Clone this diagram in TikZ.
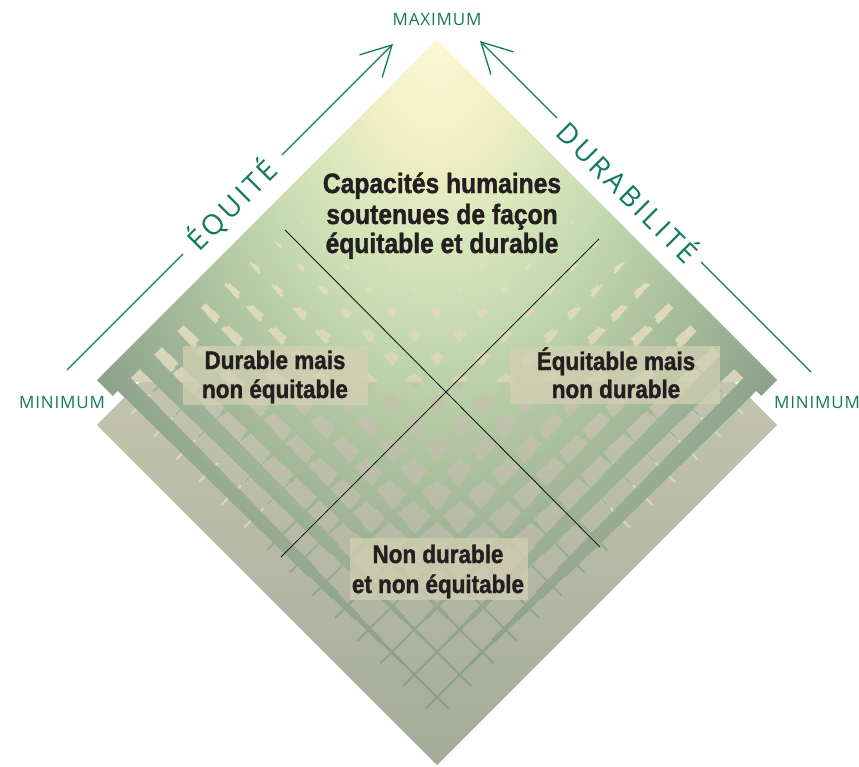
\documentclass[tikz,border=0pt]{standalone}
\usepackage{fontspec}
\setmainfont{Liberation Sans}
\newfontfamily\labelfont[FakeStretch=0.88, BoldFeatures={FakeBold=1.4}]{Liberation Sans}
\newfontfamily\axisfont[LetterSpace=5]{Open Sans}
\newfontfamily\axisfontsp[LetterSpace=12]{Open Sans}
\usetikzlibrary{arrows.meta}
\definecolor{axisgreen}{RGB}{18,122,92}
\definecolor{txt}{RGB}{35,31,32}
\definecolor{bk1}{HTML}{DAD8BC}
\definecolor{bk2}{HTML}{D2D1B5}
\definecolor{bk3}{HTML}{A5AB9A}
\definecolor{fr1}{HTML}{F6F2C9}
\definecolor{fr2}{HTML}{D6D4B7}
\definecolor{g0}{HTML}{FDF7D3}
\definecolor{g1}{HTML}{F4F0C6}
\definecolor{g2}{HTML}{D9E6BB}
\definecolor{g3}{HTML}{C4D8AE}
\definecolor{g4}{HTML}{AABF9D}
\definecolor{g5}{HTML}{8DA18B}
\definecolor{g6}{HTML}{879A88}
\definecolor{patchbeige}{HTML}{D2D0B3}
\definecolor{sheen}{HTML}{F1F0C3}
\pgfdeclareradialshading{glow}{\pgfpointorigin}{color(0bp)=(g0); color(3.75bp)=(g1); color(7.5bp)=(g2); color(11.25bp)=(g3); color(16.25bp)=(g4); color(22.5bp)=(g5); color(25bp)=(g6); color(50bp)=(g6)}
\newcommand\cellp{22.6667}
% strip width: #1 = position along the strip, #2 = position across
\pgfmathdeclarefunction{stripw}{2}{%
  \pgfmathparse{min(1,1.45-0.9*#2-1.2*#1+0.9*#1*#2)*min(1,max(0,(0.95-#1)/0.4))}%
}
\begin{document}
\begin{tikzpicture}[x=1pt,y=-1pt,
  axisline/.style={draw=axisgreen, line width=1.3pt},
  axistip/.style={-{Straight Barb[length=30pt,width=32pt]}},
  axislabel/.style={text=axisgreen, font=\axisfont\fontsize{17}{19}\selectfont, inner sep=0pt},
  axisword/.style={text=axisgreen, font=\axisfontsp\fontsize{28}{30}\selectfont, inner sep=0pt},
  quad/.style={text=txt, font=\labelfont\bfseries\fontsize{25.5}{28}\selectfont, anchor=base, inner sep=0pt},
  titletext/.style={text=txt, font=\labelfont\bfseries\fontsize{28}{30}\selectfont, anchor=base, inner sep=0pt},
  divider/.style={draw=black!90, line width=0.9pt},
  patch/.style={fill=patchbeige, fill opacity=0.75, draw=none},
  weave/.style={shift={(437,40)}, rotate=-45, scale=1.41421356}
]
\useasboundingbox (0,0) rectangle (859,766);

% back diamond
\shade[top color=bk1, middle color=bk2, bottom color=bk3]
  (437,83) -- (777,425) -- (437,765) -- (97,425) -- cycle;
% upper half of front diamond, base under the strips
\shade[top color=fr1, bottom color=fr2]
  (437,40) -- (777,382) -- (97,382) -- cycle;
% sheen streaks where strips vanish
\begin{scope}[weave]
  \foreach \i in {0,...,14}{
    \foreach \j [evaluate=\j as \ha using {(stripw((\i+0.5)/15,(\j+0.5)/15)<0.12)*(1-(\i>=7)*(\j>=7))*0.75},
                 evaluate=\j as \hb using {(stripw((\j+0.5)/15,(\i+0.5)/15)<0.12)*(1-(\i>=7)*(\j>=7))*0.75}] in {0,...,14}{
      \draw[sheen, line width=1.8pt, draw opacity=\ha] ({(\i+0.15)*\cellp},{(\j+0.5)*\cellp}) -- ({(\i+1)*\cellp},{(\j+0.5)*\cellp});
      \draw[sheen, line width=1.8pt, draw opacity=\hb] ({(\i+0.5)*\cellp},{(\j+0.15)*\cellp}) -- ({(\i+0.5)*\cellp},{(\j+1)*\cellp});
    }
  }
\end{scope}
% woven strips
\begin{scope}
  \clip[weave]
    (0,0) rectangle (15.87,340)
    (0,0) rectangle (340,15.87)
    \foreach \i in {0,...,14}{
      \foreach \j [evaluate=\j as \wa using {min(1,max((\i>=7)*(\j>=7)*(0.12-0.06*or(\i>=13,\j>=13)),stripw((\i+0.5)/15,(\j+0.5)/15)))},
                   evaluate=\j as \wb using {min(1,max((\i>=7)*(\j>=7)*(0.12-0.06*or(\i>=13,\j>=13)),stripw((\j+0.5)/15,(\i+0.5)/15)))}] in {0,...,14}{
        ({\i*\cellp},{(\j+0.5-\wa/2)*\cellp}) rectangle ({(\i+1)*\cellp},{(\j+0.5+\wa/2)*\cellp})
        ({(\i+0.5-\wb/2)*\cellp},{\j*\cellp}) rectangle ({(\i+0.5+\wb/2)*\cellp},{(\j+1)*\cellp})
      }
    };
  \shade[shading=glow] (-13,-635) rectangle (887,715);
\end{scope}

% label patches
\fill[patch] (183,346) rectangle (368,405);
\fill[patch] (510,346) rectangle (720,404);
\fill[patch] (350,538) rectangle (528,600);

% dividers
\coordinate (d1a) at (285,230);
\coordinate (d1b) at (600,547);
\coordinate (d2a) at (599,239);
\coordinate (d2b) at (281,557);
\draw[divider] (d1a) -- (d1b);
\draw[divider] (d2a) -- (d2b);

% texts
\node[titletext] (t1) at (442,193) {Capacités humaines};
\node[titletext] (t2) at (442,224) {soutenues de façon};
\node[titletext] (t3) at (442,253) {équitable et durable};
\node[quad] (q1a) at (275,369) {Durable mais};
\node[quad] (q1b) at (275,398) {non équitable};
\node[quad] (q2a) at (616,370) {Équitable mais};
\node[quad] (q2b) at (616,398) {non durable};
\node[quad] (q3a) at (438,563) {Non durable};
\node[quad] (q3b) at (438,593) {et non équitable};

% axes
\node[axislabel] (max) at (437,19) {MAXIMUM};
\node[axislabel] (minl) at (62,403) {MINIMUM};
\node[axislabel] (minr) at (817,403) {MINIMUM};

\coordinate (L0) at (67,370);
\coordinate (L1) at (183,254);
\coordinate (L2) at (282,155);
\coordinate (L3) at (393,44);
\node[axisword, rotate=45] (equite) at (232,205) {ÉQUITÉ};
\draw[axisline] (L0) -- (L1);
\draw[axisline, axistip] (L2) -- (L3);

\coordinate (R0) at (811,372);
\coordinate (R1) at (701,262);
\coordinate (R2) at (557,118);
\coordinate (R3) at (480,41);
\node[axisword, rotate=-45] (durab) at (629,191) {DURABILITÉ};
\draw[axisline] (R0) -- (R1);
\draw[axisline, axistip] (R2) -- (R3);
\end{tikzpicture}
\end{document}
